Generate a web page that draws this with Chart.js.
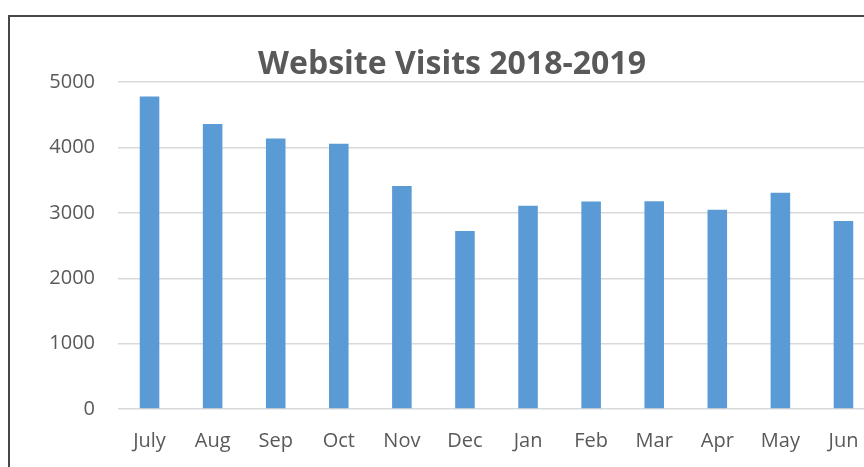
<!DOCTYPE html>
<html>
<head>
<meta charset="utf-8">
<script src="https://cdn.jsdelivr.net/npm/chart.js@4"></script>
<style>
  html, body { margin: 0; padding: 0; background: #fff; overflow: hidden; width: 864px; height: 467px; }
  #stage { position: absolute; left: 0; top: 0; width: 864px; height: 467px; overflow: hidden; }
  #frame { position: absolute; left: 8px; top: 15px; width: 900px; height: 500px; border: 2px solid #474747; box-sizing: border-box; }
  canvas { position: absolute; left: 0; top: 0; }
</style>
</head>
<body>
<div id="stage">
  <div id="frame"></div>
  <canvas id="visitsChart" width="904" height="467"></canvas>
</div>
<script>
// months from July 2018 to June 2019
const months = ["July", "Aug", "Sep", "Oct", "Nov", "Dec", "Jan", "Feb", "Mar", "Apr", "May", "Jun"];
const visits = [4780, 4360, 4140, 4060, 3410, 2725, 3110, 3175, 3180, 3050, 3310, 2875];
const yTicks = [0, 1000, 2000, 3000, 4000, 5000];

const textColor = "#595959";

const ctx = document.getElementById("visitsChart").getContext("2d");

// canvas is wider than the page, the reference is cut off on the right
new Chart(ctx, {
  type: "bar",
  data: {
    labels: months,
    datasets: [{
      label: "Visits",
      data: visits,
      backgroundColor: "#5b9bd5",
      borderWidth: 0,
      barPercentage: 0.31,
      categoryPercentage: 1
    }]
  },
  options: {
    responsive: false,
    animation: false,
    layout: { padding: { left: 29, right: 29, top: 47, bottom: 0 } },
    plugins: {
      legend: { display: false },
      tooltip: { enabled: false },
      title: {
        display: true,
        text: "Website Visits 2018-2019",
        color: textColor,
        font: { family: "'Open Sans', sans-serif", size: 32, weight: "bold", lineHeight: 1.1 },
        padding: { top: 0, bottom: 0 }
      }
    },
    scales: {
      x: {
        grid: { display: false, drawTicks: false, tickLength: 0 },
        border: { display: false },
        ticks: {
          color: textColor,
          font: { family: "'Open Sans', sans-serif", size: 20 },
          padding: 20,
          maxRotation: 0,
          autoSkip: false
        },
        afterFit: scale => { scale.height = 58; }
      },
      y: {
        min: 0,
        max: 5000,
        afterBuildTicks: scale => { scale.ticks = yTicks.map(v => ({ value: v })); },
        grid: { color: "#d9d9d9", lineWidth: 1.5, drawTicks: false, tickLength: 0 },
        border: { display: false },
        ticks: {
          color: textColor,
          font: { family: "'Open Sans', sans-serif", size: 20 },
          padding: 23,
          callback: v => String(v)
        },
        afterFit: scale => { scale.width = 89; }
      }
    }
  }
});
</script>
</body>
</html>
